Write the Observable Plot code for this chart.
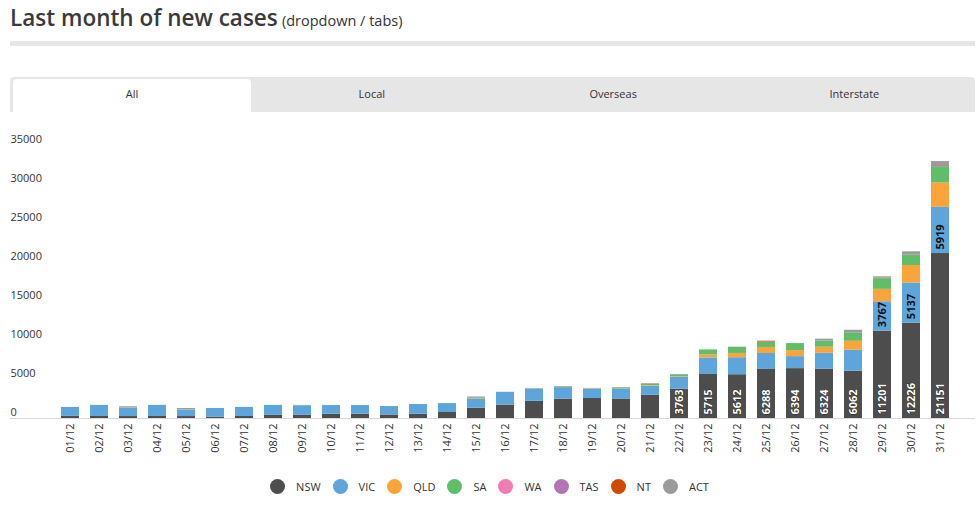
<!DOCTYPE html>
<html>
<head>
<meta charset="utf-8">
<script src="https://cdn.jsdelivr.net/npm/d3@7"></script>
<script src="https://cdn.jsdelivr.net/npm/@observablehq/plot@0.6"></script>
<style>
  html, body { margin: 0; padding: 0; background: #fff; }
  body { width: 979px; height: 505px; position: relative; overflow: hidden; font-family: "Open Sans", sans-serif; color: #333; }
  #title { position: absolute; left: 10px; top: 2px; white-space: nowrap; }
  #title .main { font-size: 22.5px; font-weight: 600; color: #3a3a3a; }
  #title .sub { font-size: 14.5px; color: #333; }
  #rule { position: absolute; left: 10px; top: 41px; width: 965px; height: 5px; background: #e6e6e6; }
  #tabs { position: absolute; left: 10px; top: 77px; width: 965px; height: 35px; background: #e6e6e6; border-radius: 4px 4px 0 0; display: grid; grid-template-columns: repeat(4, 1fr); }
  #tabs div { font-size: 11px; color: #333; text-align: center; line-height: 33px; }
  #tabs div.active { background: #fff; margin: 2px 0 0 3px; line-height: 29px; border-radius: 4px 4px 0 0; }
  #chart { position: absolute; left: 0; top: 115px; }
  #legend { position: absolute; left: 0; top: 479px; width: 979px; display: flex; justify-content: center; align-items: center; font-size: 11px; color: #333; }
  #legend .item { display: flex; align-items: center; margin: 0 6px; }
  #legend .dot { width: 15px; height: 15px; border-radius: 50%; margin-right: 11px; }
</style>
</head>
<body>
<div id="title"><span class="main">Last month of new cases</span> <span class="sub">(dropdown / tabs)</span></div>
<div id="rule"></div>
<div id="tabs"></div>
<div id="chart"></div>
<div id="legend"></div>
<script>
const tabs = ["All", "Local", "Overseas", "Interstate"];
const dates = ["01/12","02/12","03/12","04/12","05/12","06/12","07/12","08/12","09/12","10/12","11/12","12/12","13/12","14/12","15/12","16/12","17/12","18/12","19/12","20/12","21/12","22/12","23/12","24/12","25/12","26/12","27/12","28/12","29/12","30/12","31/12"];
const states = ["NSW","VIC","QLD","SA","WA","TAS","NT","ACT"];
const stateColors = ["#4d4d4d","#5da5da","#faa43a","#60bd68","#f17cb0","#b276b2","#d04a02","#9b9b9b"];
const nsw = [271,260,250,260,250,150,260,400,400,550,550,450,550,770,1320,1700,2200,2480,2566,2500,3000,3763,5715,5612,6288,6394,6324,6062,11201,12226,21151];
const vic = [1140,1410,1070,1410,810,1130,1150,1270,1230,1110,1110,1080,1240,1140,1150,1640,1560,1480,1170,1250,1150,1500,2050,2180,2050,1540,2050,2690,3767,5137,5919];
const qld = [5,5,20,5,10,3,5,5,5,5,5,5,5,5,30,10,10,30,30,30,80,80,385,550,770,770,770,1150,1589,2250,3118];
const sa  = [5,5,40,5,30,3,5,5,40,5,5,5,5,5,60,10,20,90,30,90,180,250,640,760,640,900,770,1030,1374,1350,2093];
const wa  = [0,0,0,0,0,0,0,0,0,0,0,0,0,0,0,0,0,0,0,0,0,0,0,0,0,0,0,0,0,0,0];
const tas = [0,0,0,0,0,0,0,0,0,0,0,0,0,0,20,0,0,5,0,0,5,10,0,10,60,0,10,0,55,50,137];
const nt  = [0,0,0,0,0,0,0,0,0,0,0,0,0,0,30,0,0,0,0,0,0,0,0,0,90,0,0,0,40,10,20];
const act = [3,5,130,5,180,3,5,5,5,5,5,5,5,5,150,10,60,15,60,100,70,50,0,30,30,0,250,380,138,350,500];
const yTicks = [0,5000,10000,15000,20000,25000,30000,35000];
const labelMin = 3500;

const series = [nsw, vic, qld, sa, wa, tas, nt, act];
const rows = [];
states.forEach((s, k) => dates.forEach((d, i) => rows.push({date: d, state: s, value: series[k][i]})));
const nswLabels = dates.map((d, i) => ({date: d, base: 0, v: nsw[i]})).filter(r => r.v >= labelMin);
const vicLabels = dates.map((d, i) => ({date: d, base: nsw[i], v: vic[i]})).filter(r => r.v >= labelMin);

// tabs
const tabsEl = document.getElementById("tabs");
tabs.forEach((t, i) => { const el = document.createElement("div"); el.textContent = t; if (i === 0) el.className = "active"; tabsEl.appendChild(el); });

const chart = Plot.plot({
  width: 979,
  height: 355,
  marginLeft: 10,
  marginRight: 4,
  marginTop: 30,
  marginBottom: 52,
  style: {fontFamily: "'Open Sans', sans-serif", fontSize: "11px", color: "#333", background: "#fff", overflow: "visible"},
  x: {type: "band", domain: dates, range: [55.5, 954.5], paddingInner: 0.38, paddingOuter: 0.19, round: false},
  y: {domain: [0, 35000]},
  color: {domain: states, range: stateColors},
  marks: [
    Plot.barY(rows, {x: "date", y: "value", fill: "state", order: states}),
    Plot.ruleY([0], {stroke: "#d8d8d8", strokeWidth: 1}),
    Plot.axisY({ticks: yTicks, tickSize: 0, tickPadding: 0, textAnchor: "start", dy: -6, tickFormat: d3.format("d"), label: null, fontSize: 11}),
    Plot.axisX({tickRotate: -90, tickSize: 0, tickPadding: 5, label: null, fontSize: 11}),
    Plot.text(nswLabels, {x: "date", y: "base", text: d => String(d.v), rotate: -90, textAnchor: "start", dy: -4, fill: "#fff", stroke: "#222", strokeWidth: 0.8, fontSize: 11, fontWeight: "bold"}),
    Plot.text(vicLabels, {x: "date", y: "base", text: d => String(d.v), rotate: -90, textAnchor: "start", dy: -4, fill: "#111", fontSize: 11, fontWeight: "bold"})
  ]
});
document.getElementById("chart").appendChild(chart);

// legend
const legendEl = document.getElementById("legend");
states.forEach((s, i) => {
  const item = document.createElement("div"); item.className = "item";
  const dot = document.createElement("span"); dot.className = "dot"; dot.style.background = stateColors[i];
  const lab = document.createElement("span"); lab.textContent = s;
  item.appendChild(dot); item.appendChild(lab); legendEl.appendChild(item);
});
</script>
</body>
</html>
